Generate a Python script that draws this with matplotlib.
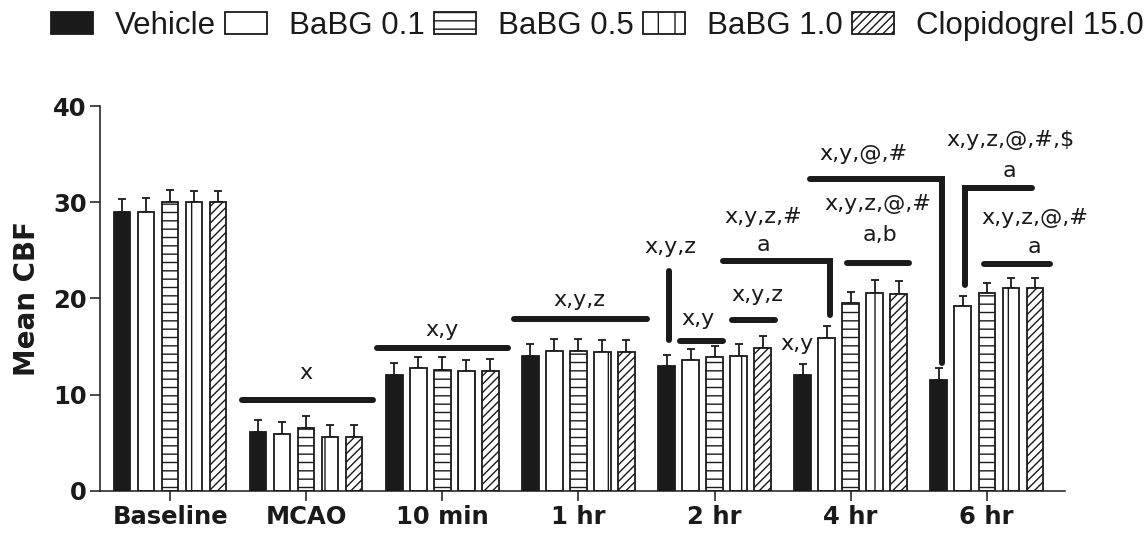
import matplotlib
matplotlib.use("Agg")
import matplotlib.pyplot as plt
import numpy as np

# Time points and treatment groups
timepoints = ["Baseline", "MCAO", "10 min", "1 hr", "2 hr", "4 hr", "6 hr"]
groups = ["Vehicle", "BaBG 0.1", "BaBG 0.5", "BaBG 1.0", "Clopidogrel 15.0"]

# Mean CBF per group (one list per treatment, ordered by time point)
vehicle     = [29.0, 6.1, 12.0, 14.0, 13.0, 12.0, 11.5]
babg_01     = [29.0, 5.9, 12.75, 14.55, 13.55, 15.9, 19.2]
babg_05     = [30.0, 6.5, 12.6, 14.55, 13.85, 19.5, 20.55]
babg_10     = [30.0, 5.6, 12.4, 14.4, 14.05, 20.6, 21.1]
clopidogrel = [30.0, 5.6, 12.4, 14.4, 14.8, 20.5, 21.1]

# Upper SEM
vehicle_err     = [1.3, 1.3, 1.3, 1.3, 1.1, 1.2, 1.25]
babg_01_err     = [1.4, 1.2, 1.2, 1.25, 1.15, 1.25, 1.0]
babg_05_err     = [1.25, 1.3, 1.3, 1.25, 1.15, 1.2, 1.05]
babg_10_err     = [1.2, 1.2, 1.2, 1.3, 1.25, 1.3, 1.0]
clopidogrel_err = [1.2, 1.2, 1.3, 1.3, 1.3, 1.3, 1.0]

means = [vehicle, babg_01, babg_05, babg_10, clopidogrel]
errs = [vehicle_err, babg_01_err, babg_05_err, babg_10_err, clopidogrel_err]

yticks = [0, 10, 20, 30, 40]

plt.rcParams["hatch.linewidth"] = 1.0
plt.rcParams["hatch.color"] = "#1a1a1a"

fig = plt.figure(figsize=(11.48, 5.35), dpi=100)
ax = fig.add_axes([100 / 1148, 1 - 490.7 / 535, 965 / 1148, (490.7 - 106) / 535])

styles = [
    dict(facecolor="#1a1a1a", hatch=None),
    dict(facecolor="white", hatch=None),
    dict(facecolor="white", hatch="--"),
    dict(facecolor="white", hatch="|"),
    dict(facecolor="white", hatch="////"),
]

x = np.arange(len(timepoints))
slot = 0.1764
width = 0.121
ink = "#1a1a1a"
handles = []
for i, (m, e, st) in enumerate(zip(means, errs, styles)):
    pos = x + (i - 2) * slot
    bars = ax.bar(pos, m, width=width, color=st["facecolor"], hatch=st["hatch"],
                  edgecolor=ink, linewidth=1.3, zorder=2, label=groups[i])
    ax.errorbar(pos, m, yerr=[np.zeros(len(m)), e], fmt="none", ecolor=ink,
                elinewidth=1.3, capsize=3.2, capthick=1.3, zorder=1)
    handles.append(bars)

ax.set_xlim(-0.515, 6.575)
ax.set_ylim(0, 40)
ax.set_yticks(yticks)
ax.set_xticks(x)
ax.set_xticklabels(timepoints)
for s in ["top", "right"]:
    ax.spines[s].set_visible(False)
for s in ["left", "bottom"]:
    ax.spines[s].set_linewidth(1.1)
    ax.spines[s].set_color(ink)
ax.tick_params(axis="both", length=7.5, width=1.1, color=ink)
ax.tick_params(axis="y", pad=2)
ax.tick_params(axis="x", pad=3)
for lab in ax.get_xticklabels() + ax.get_yticklabels():
    lab.set_fontfamily("DejaVu Sans")
    lab.set_fontweight("bold")
    lab.set_fontsize(17.5)
    lab.set_color(ink)
ax.set_ylabel("Mean CBF", fontsize=20, fontweight="bold", family="DejaVu Sans",
              color=ink, labelpad=9)

# Significance bars: list of (xs, ys) polylines
lw_sig = 4.3
sig_lines = [
    ([0.527, 1.494], [9.45, 9.45]),
    ([1.519, 2.483], [14.8, 14.8]),
    ([2.53, 3.503], [17.85, 17.85]),
    ([3.667, 3.667], [22.85, 15.7]),
    ([3.747, 4.061], [15.6, 15.6]),
    ([4.127, 4.445], [17.7, 17.7]),
    ([4.063, 4.849, 4.849], [23.85, 23.85, 18.3]),
    ([4.703, 5.670, 5.670], [32.44, 32.44, 13.3]),
    ([4.972, 5.432], [23.69, 23.69]),
    ([6.331, 5.841, 5.841], [31.43, 31.43, 21.4]),
    ([5.981, 6.466], [23.6, 23.6]),
]
for xs, ys in sig_lines:
    ax.plot(xs, ys, color=ink, lw=lw_sig, solid_capstyle="round",
            solid_joinstyle="miter", clip_on=False, zorder=3)

sig_text = [
    (1.0, 12.26, "x"),
    (2.0, 16.74, "x,y"),
    (3.01, 19.86, "x,y,z"),
    (3.674, 25.3, "x,y,z"),
    (3.88, 17.9, "x,y"),
    (4.318, 20.3, "x,y,z"),
    (4.357, 28.5, "x,y,z,#"),
    (4.357, 25.5, "a"),
    (4.607, 15.3, "x,y"),
    (5.092, 34.97, "x,y,@,#"),
    (5.202, 29.76, "x,y,z,@,#"),
    (5.217, 26.6, "a,b"),
    (6.172, 36.5, "x,y,z,@,#,$"),
    (6.165, 33.2, "a"),
    (6.356, 28.4, "x,y,z,@,#"),
    (6.348, 25.3, "a"),
]
for tx, ty, s in sig_text:
    ax.text(tx, ty, s, ha="center", va="center", fontsize=16,
            family="DejaVu Sans", color=ink, clip_on=False)

leg = fig.legend(handles=handles, labels=groups, loc="center left",
                 bbox_to_anchor=(51 / 1148, 1 - 26 / 535), ncol=5, frameon=False,
                 prop={"family": "Liberation Sans", "size": 22.5},
                 handlelength=1.34, handleheight=0.7, handletextpad=0.7,
                 columnspacing=0.3, borderpad=0, borderaxespad=0)
for t in leg.get_texts():
    t.set_color(ink)

fig.savefig("out.png", dpi=100)
